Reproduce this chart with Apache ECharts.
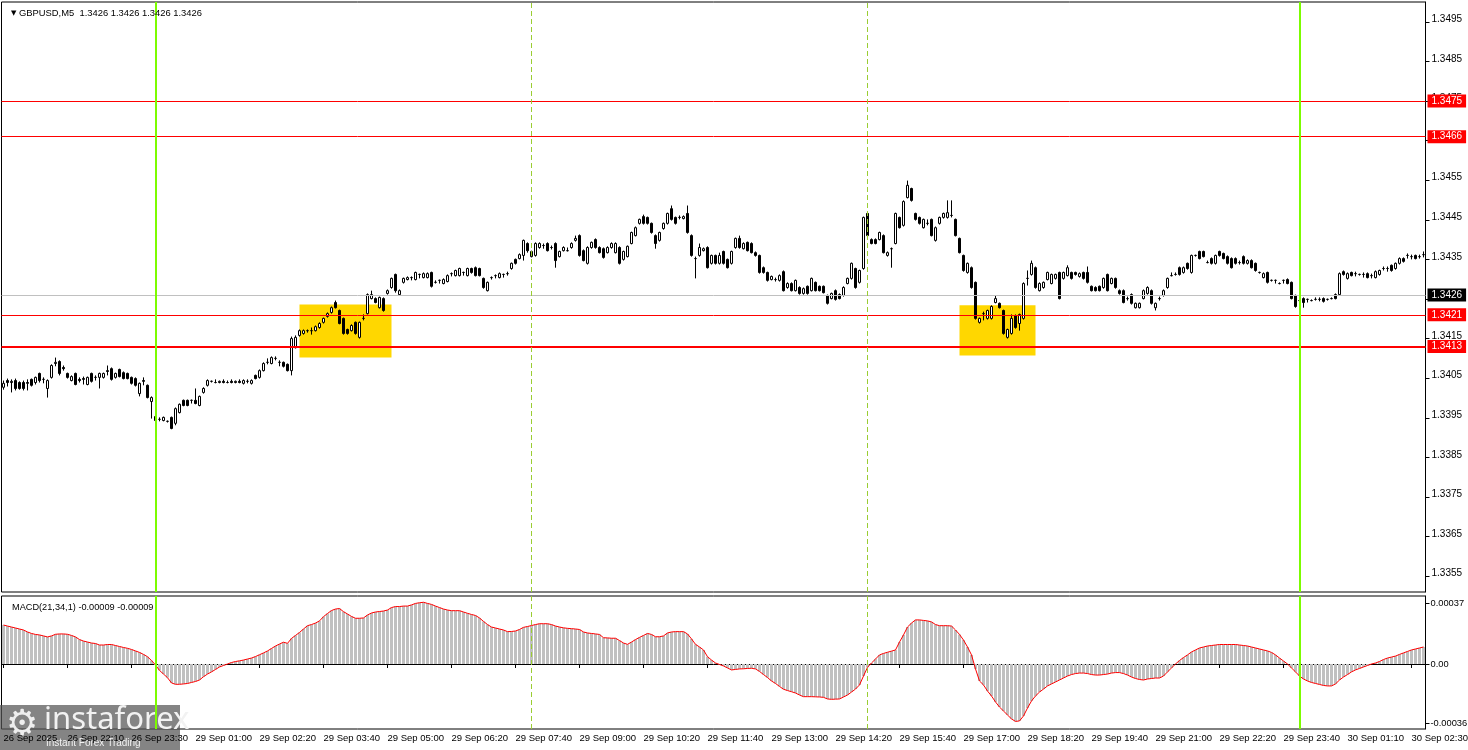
<!DOCTYPE html>
<html><head><meta charset="utf-8">
<script src="https://cdn.jsdelivr.net/npm/echarts@6.0.0/dist/echarts.min.js"></script>
<style>html,body{margin:0;padding:0;background:#fff}#c{width:1468px;height:750px}</style>
</head><body><div id="c"></div><script>
// sessions: [day, first bar minute-of-day, bar count] (5-minute bars)
const SESSIONS = [['26 Sep', 1250, 38], ['29 Sep', 10, 286], ['30 Sep', 10, 32]];
const X_TICK_LABELS = ['26 Sep 2025','26 Sep 22:10','26 Sep 23:30','29 Sep 01:00','29 Sep 02:20','29 Sep 03:40','29 Sep 05:00','29 Sep 06:20','29 Sep 07:40','29 Sep 09:00','29 Sep 10:20','29 Sep 11:40','29 Sep 13:00','29 Sep 14:20','29 Sep 15:40','29 Sep 17:00','29 Sep 18:20','29 Sep 19:40','29 Sep 21:00','29 Sep 22:20','29 Sep 23:40','30 Sep 01:10','30 Sep 02:30'];
const Y_TICKS = [1.3355,1.3365,1.3375,1.3385,1.3395,1.3405,1.3415,1.3425,1.3435,1.3445,1.3455,1.3465,1.3475,1.3485,1.3495];
const MACD_TICKS = [0.00037, 0, -0.00036];
const TITLE_TEXT = 'GBPUSD,M5  1.3426 1.3426 1.3426 1.3426';
const MACD_TEXT = 'MACD(21,34,1) -0.00009 -0.00009';

const OPEN = [
1.34027,1.34044,1.34039,1.34044,1.34039,1.34039,1.34039,1.34047,1.34039,1.34062,
1.34047,1.34024,1.34052,1.34087,1.34092,1.34077,1.34062,1.34044,1.34062,1.34047,
1.34049,1.34034,1.34062,1.34052,1.34052,1.34052,1.34069,1.34074,1.34052,1.34072,
1.34064,1.34062,1.34052,1.34049,1.34011,1.34044,1.34032,1.33991,1.33953,1.33946,
1.33943,1.33941,1.33951,1.33936,1.33963,1.33994,1.33994,1.33994,1.33994,1.33981,
1.34014,1.34032,1.34042,1.34039,1.34039,1.34042,1.34039,1.34042,1.34039,1.34042,
1.34037,1.34042,1.34037,1.34057,1.34052,1.34069,1.34090,1.34087,1.34100,1.34090,
1.34090,1.34085,1.34069,1.34127,1.34158,1.34163,1.34170,1.34170,1.34170,1.34178,
1.34191,1.34206,1.34216,1.34241,1.34221,1.34201,1.34173,1.34170,1.34191,1.34153,
1.34201,1.34213,1.34251,1.34251,1.34228,1.34251,1.34264,1.34279,1.34312,1.34261,
1.34292,1.34299,1.34304,1.34299,1.34312,1.34304,1.34304,1.34317,1.34292,1.34297,
1.34289,1.34294,1.34314,1.34309,1.34309,1.34317,1.34309,1.34327,1.34329,1.34327,
1.34302,1.34271,1.34304,1.34309,1.34304,1.34312,1.34314,1.34327,1.34350,1.34352,
1.34360,1.34390,1.34357,1.34360,1.34380,1.34385,1.34390,1.34380,1.34390,1.34357,
1.34372,1.34372,1.34380,1.34398,1.34410,1.34372,1.34340,1.34380,1.34400,1.34380,
1.34377,1.34367,1.34380,1.34367,1.34380,1.34350,1.34357,1.34390,1.34410,1.34441,
1.34458,1.34456,1.34441,1.34410,1.34398,1.34428,1.34441,1.34478,1.34456,1.34456,
1.34453,1.34466,1.34410,1.34352,1.34360,1.34372,1.34380,1.34340,1.34360,1.34340,
1.34370,1.34350,1.34340,1.34380,1.34403,1.34377,1.34393,1.34390,1.34367,1.34360,
1.34329,1.34317,1.34299,1.34299,1.34297,1.34319,1.34279,1.34289,1.34271,1.34279,
1.34264,1.34282,1.34271,1.34292,1.34282,1.34282,1.34259,1.34251,1.34271,1.34261,
1.34259,1.34289,1.34302,1.34327,1.34292,1.34327,1.34466,1.34400,1.34400,1.34400,
1.34410,1.34360,1.34377,1.34390,1.34456,1.34436,1.34506,1.34529,1.34466,1.34456,
1.34430,1.34441,1.34451,1.34398,1.34441,1.34456,1.34456,1.34461,1.34451,1.34403,
1.34360,1.34317,1.34329,1.34292,1.34191,1.34213,1.34201,1.34201,1.34241,1.34239,
1.34221,1.34153,1.34163,1.34208,1.34188,1.34201,1.34302,1.34312,1.34329,1.34271,
1.34279,1.34299,1.34289,1.34302,1.34317,1.34302,1.34309,1.34317,1.34317,1.34307,
1.34317,1.34317,1.34282,1.34279,1.34282,1.34279,1.34312,1.34289,1.34302,1.34271,
1.34271,1.34251,1.34261,1.34228,1.34228,1.34251,1.34264,1.34271,1.34228,1.34251,
1.34259,1.34279,1.34309,1.34312,1.34329,1.34317,1.34340,1.34317,1.34360,1.34370,
1.34370,1.34342,1.34352,1.34340,1.34370,1.34365,1.34357,1.34352,1.34352,1.34342,
1.34357,1.34340,1.34347,1.34340,1.34317,1.34304,1.34317,1.34297,1.34297,1.34289,
1.34297,1.34299,1.34292,1.34259,1.34246,1.34251,1.34249,1.34246,1.34249,1.34249,
1.34251,1.34249,1.34251,1.34261,1.34261,1.34319,1.34302,1.34317,1.34314,1.34312,
1.34312,1.34314,1.34309,1.34304,1.34312,1.34327,1.34327,1.34335,1.34327,1.34340,
1.34352,1.34360,1.34357,1.34360,1.34357,1.34362];
const CLOSE = [
1.34037,1.34039,1.34042,1.34024,1.34024,1.34024,1.34037,1.34032,1.34052,1.34044,
1.34047,1.34044,1.34082,1.34090,1.34062,1.34074,1.34052,1.34054,1.34034,1.34044,
1.34047,1.34052,1.34042,1.34052,1.34062,1.34062,1.34067,1.34047,1.34062,1.34054,
1.34049,1.34049,1.34037,1.34032,1.34037,1.34042,1.34001,1.34001,1.33943,1.33946,
1.33951,1.33941,1.33923,1.33973,1.33984,1.33981,1.33981,1.33994,1.33986,1.34004,
1.34024,1.34044,1.34042,1.34039,1.34042,1.34039,1.34039,1.34039,1.34042,1.34039,
1.34044,1.34042,1.34044,1.34049,1.34069,1.34087,1.34090,1.34102,1.34100,1.34090,
1.34080,1.34069,1.34150,1.34153,1.34170,1.34170,1.34170,1.34170,1.34180,1.34188,
1.34201,1.34213,1.34228,1.34228,1.34188,1.34163,1.34163,1.34183,1.34163,1.34191,
1.34201,1.34261,1.34261,1.34241,1.34254,1.34221,1.34271,1.34302,1.34271,1.34271,
1.34302,1.34304,1.34304,1.34317,1.34312,1.34314,1.34314,1.34282,1.34292,1.34297,
1.34299,1.34309,1.34314,1.34322,1.34327,1.34317,1.34327,1.34317,1.34309,1.34309,
1.34279,1.34292,1.34304,1.34309,1.34314,1.34312,1.34314,1.34340,1.34340,1.34362,
1.34398,1.34372,1.34370,1.34390,1.34390,1.34385,1.34372,1.34380,1.34347,1.34370,
1.34380,1.34372,1.34390,1.34403,1.34360,1.34347,1.34380,1.34393,1.34380,1.34367,
1.34355,1.34380,1.34390,1.34390,1.34340,1.34370,1.34383,1.34418,1.34430,1.34451,
1.34441,1.34441,1.34418,1.34390,1.34418,1.34441,1.34466,1.34451,1.34441,1.34456,
1.34458,1.34418,1.34360,1.34352,1.34380,1.34377,1.34329,1.34360,1.34340,1.34360,
1.34340,1.34329,1.34370,1.34403,1.34380,1.34390,1.34372,1.34367,1.34360,1.34317,
1.34317,1.34297,1.34307,1.34299,1.34309,1.34271,1.34289,1.34271,1.34297,1.34264,
1.34276,1.34264,1.34302,1.34271,1.34271,1.34266,1.34239,1.34264,1.34249,1.34251,
1.34279,1.34302,1.34340,1.34279,1.34322,1.34456,1.34410,1.34390,1.34390,1.34418,
1.34367,1.34367,1.34377,1.34466,1.34430,1.34496,1.34537,1.34499,1.34451,1.34441,
1.34451,1.34441,1.34410,1.34430,1.34456,1.34466,1.34468,1.34461,1.34410,1.34367,
1.34322,1.34340,1.34279,1.34201,1.34201,1.34213,1.34221,1.34231,1.34251,1.34228,
1.34163,1.34173,1.34201,1.34178,1.34211,1.34289,1.34302,1.34340,1.34279,1.34289,
1.34292,1.34317,1.34312,1.34312,1.34251,1.34317,1.34329,1.34302,1.34312,1.34314,
1.34302,1.34292,1.34271,1.34271,1.34271,1.34302,1.34271,1.34302,1.34279,1.34264,
1.34241,1.34251,1.34239,1.34239,1.34239,1.34271,1.34279,1.34239,1.34239,1.34251,
1.34271,1.34302,1.34309,1.34312,1.34312,1.34329,1.34327,1.34360,1.34360,1.34352,
1.34357,1.34342,1.34340,1.34360,1.34360,1.34352,1.34340,1.34329,1.34340,1.34342,
1.34340,1.34347,1.34329,1.34322,1.34317,1.34314,1.34292,1.34297,1.34297,1.34289,
1.34297,1.34289,1.34251,1.34231,1.34246,1.34241,1.34249,1.34246,1.34249,1.34249,
1.34244,1.34249,1.34251,1.34251,1.34314,1.34312,1.34314,1.34309,1.34314,1.34312,
1.34312,1.34304,1.34309,1.34319,1.34322,1.34327,1.34327,1.34322,1.34340,1.34352,
1.34345,1.34360,1.34357,1.34352,1.34357,1.34362];
const HIGH = [
1.34044,1.34049,1.34047,1.34049,1.34042,1.34044,1.34047,1.34049,1.34054,1.34064,
1.34052,1.34047,1.34085,1.34102,1.34095,1.34082,1.34064,1.34057,1.34064,1.34052,
1.34054,1.34054,1.34064,1.34057,1.34064,1.34064,1.34082,1.34077,1.34064,1.34074,
1.34067,1.34064,1.34054,1.34052,1.34039,1.34052,1.34034,1.34004,1.33956,1.33951,
1.33953,1.33943,1.33953,1.33976,1.33986,1.33996,1.33996,1.33996,1.34024,1.34006,
1.34027,1.34047,1.34044,1.34047,1.34044,1.34047,1.34044,1.34047,1.34044,1.34047,
1.34047,1.34047,1.34047,1.34059,1.34072,1.34090,1.34100,1.34105,1.34105,1.34095,
1.34092,1.34087,1.34155,1.34158,1.34173,1.34173,1.34173,1.34178,1.34183,1.34191,
1.34203,1.34216,1.34231,1.34246,1.34223,1.34203,1.34175,1.34186,1.34193,1.34193,
1.34211,1.34264,1.34271,1.34254,1.34256,1.34254,1.34274,1.34304,1.34314,1.34274,
1.34304,1.34307,1.34307,1.34319,1.34314,1.34317,1.34317,1.34319,1.34297,1.34299,
1.34302,1.34312,1.34317,1.34324,1.34329,1.34319,1.34329,1.34329,1.34332,1.34329,
1.34304,1.34294,1.34307,1.34312,1.34317,1.34314,1.34319,1.34342,1.34352,1.34365,
1.34400,1.34393,1.34372,1.34393,1.34393,1.34390,1.34393,1.34385,1.34393,1.34372,
1.34383,1.34380,1.34393,1.34410,1.34413,1.34375,1.34383,1.34395,1.34403,1.34383,
1.34380,1.34383,1.34393,1.34393,1.34383,1.34372,1.34385,1.34420,1.34433,1.34453,
1.34463,1.34458,1.34443,1.34413,1.34420,1.34443,1.34468,1.34486,1.34458,1.34461,
1.34461,1.34486,1.34413,1.34357,1.34390,1.34380,1.34383,1.34362,1.34362,1.34367,
1.34372,1.34352,1.34372,1.34405,1.34410,1.34393,1.34395,1.34393,1.34370,1.34362,
1.34332,1.34319,1.34309,1.34304,1.34312,1.34322,1.34292,1.34292,1.34299,1.34282,
1.34279,1.34284,1.34304,1.34294,1.34284,1.34284,1.34261,1.34266,1.34274,1.34264,
1.34282,1.34304,1.34342,1.34329,1.34324,1.34458,1.34468,1.34403,1.34403,1.34420,
1.34413,1.34370,1.34380,1.34468,1.34458,1.34499,1.34549,1.34531,1.34468,1.34458,
1.34453,1.34451,1.34453,1.34433,1.34458,1.34468,1.34499,1.34499,1.34453,1.34405,
1.34362,1.34342,1.34332,1.34294,1.34203,1.34218,1.34223,1.34234,1.34259,1.34241,
1.34223,1.34175,1.34211,1.34211,1.34213,1.34292,1.34322,1.34347,1.34332,1.34292,
1.34294,1.34319,1.34314,1.34314,1.34319,1.34319,1.34335,1.34319,1.34319,1.34317,
1.34319,1.34332,1.34284,1.34282,1.34284,1.34304,1.34314,1.34304,1.34304,1.34274,
1.34274,1.34256,1.34264,1.34241,1.34241,1.34274,1.34282,1.34274,1.34241,1.34256,
1.34274,1.34304,1.34317,1.34317,1.34332,1.34332,1.34342,1.34362,1.34362,1.34372,
1.34372,1.34347,1.34355,1.34362,1.34372,1.34367,1.34360,1.34355,1.34355,1.34347,
1.34360,1.34350,1.34350,1.34342,1.34319,1.34317,1.34319,1.34299,1.34299,1.34292,
1.34299,1.34302,1.34294,1.34261,1.34249,1.34254,1.34251,1.34249,1.34254,1.34254,
1.34254,1.34251,1.34254,1.34264,1.34317,1.34322,1.34317,1.34319,1.34319,1.34314,
1.34317,1.34317,1.34314,1.34322,1.34324,1.34332,1.34332,1.34337,1.34342,1.34355,
1.34355,1.34365,1.34362,1.34362,1.34362,1.34370];
const LOW = [
1.34021,1.34029,1.34014,1.34019,1.34021,1.34019,1.34019,1.34029,1.34034,1.34039,
1.34037,1.34001,1.34049,1.34080,1.34057,1.34069,1.34049,1.34042,1.34032,1.34039,
1.34034,1.34032,1.34039,1.34044,1.34024,1.34049,1.34057,1.34044,1.34049,1.34052,
1.34047,1.34047,1.34034,1.34029,1.34004,1.34032,1.33999,1.33948,1.33941,1.33941,
1.33941,1.33938,1.33921,1.33931,1.33961,1.33979,1.33979,1.33986,1.33984,1.33979,
1.34011,1.34029,1.34039,1.34037,1.34037,1.34037,1.34037,1.34037,1.34037,1.34037,
1.34034,1.34037,1.34034,1.34047,1.34049,1.34067,1.34085,1.34085,1.34095,1.34080,
1.34077,1.34067,1.34057,1.34125,1.34155,1.34160,1.34165,1.34160,1.34168,1.34175,
1.34188,1.34203,1.34213,1.34226,1.34186,1.34160,1.34160,1.34168,1.34160,1.34150,
1.34196,1.34211,1.34249,1.34239,1.34226,1.34218,1.34261,1.34276,1.34266,1.34259,
1.34289,1.34297,1.34297,1.34297,1.34302,1.34302,1.34302,1.34279,1.34289,1.34289,
1.34287,1.34292,1.34307,1.34307,1.34307,1.34309,1.34307,1.34314,1.34307,1.34307,
1.34276,1.34269,1.34299,1.34302,1.34302,1.34304,1.34309,1.34324,1.34337,1.34350,
1.34347,1.34367,1.34355,1.34357,1.34377,1.34377,1.34370,1.34375,1.34329,1.34355,
1.34370,1.34370,1.34377,1.34395,1.34357,1.34345,1.34337,1.34377,1.34377,1.34365,
1.34352,1.34365,1.34377,1.34365,1.34337,1.34347,1.34355,1.34388,1.34408,1.34438,
1.34438,1.34438,1.34415,1.34377,1.34395,1.34425,1.34438,1.34448,1.34438,1.34451,
1.34451,1.34415,1.34357,1.34302,1.34357,1.34370,1.34327,1.34337,1.34337,1.34337,
1.34337,1.34327,1.34337,1.34377,1.34377,1.34375,1.34370,1.34365,1.34357,1.34314,
1.34314,1.34294,1.34297,1.34294,1.34294,1.34269,1.34276,1.34269,1.34269,1.34261,
1.34261,1.34261,1.34269,1.34269,1.34269,1.34264,1.34236,1.34249,1.34246,1.34249,
1.34256,1.34287,1.34299,1.34276,1.34289,1.34324,1.34408,1.34388,1.34388,1.34398,
1.34365,1.34357,1.34329,1.34388,1.34428,1.34433,1.34504,1.34496,1.34448,1.34438,
1.34428,1.34436,1.34408,1.34395,1.34438,1.34453,1.34453,1.34456,1.34408,1.34365,
1.34319,1.34314,1.34276,1.34198,1.34188,1.34196,1.34198,1.34198,1.34239,1.34226,
1.34160,1.34150,1.34160,1.34175,1.34170,1.34198,1.34284,1.34309,1.34276,1.34269,
1.34276,1.34297,1.34287,1.34299,1.34249,1.34299,1.34307,1.34299,1.34309,1.34304,
1.34299,1.34289,1.34269,1.34269,1.34269,1.34276,1.34269,1.34287,1.34276,1.34261,
1.34239,1.34246,1.34236,1.34226,1.34226,1.34249,1.34261,1.34236,1.34221,1.34246,
1.34256,1.34276,1.34307,1.34309,1.34309,1.34314,1.34324,1.34314,1.34357,1.34350,
1.34355,1.34340,1.34337,1.34337,1.34357,1.34350,1.34337,1.34327,1.34337,1.34337,
1.34337,1.34337,1.34327,1.34319,1.34314,1.34302,1.34289,1.34294,1.34289,1.34287,
1.34289,1.34287,1.34249,1.34228,1.34228,1.34228,1.34241,1.34244,1.34246,1.34244,
1.34241,1.34246,1.34249,1.34249,1.34259,1.34309,1.34299,1.34307,1.34307,1.34309,
1.34304,1.34302,1.34302,1.34302,1.34309,1.34322,1.34319,1.34319,1.34324,1.34337,
1.34342,1.34352,1.34350,1.34350,1.34352,1.34355];
const MACD = [
236e-6,230e-6,224e-6,218e-6,212e-6,206e-6,194e-6,185e-6,179e-6,176e-6,
170e-6,164e-6,170e-6,180e-6,182e-6,182e-6,180e-6,173e-6,164e-6,148e-6,
139e-6,133e-6,127e-6,124e-6,115e-6,115e-6,118e-6,118e-6,112e-6,106e-6,
100e-6,95e-6,88e-6,79e-6,70e-6,58e-6,44e-6,21e-6,-6e-6,-39e-6,
-61e-6,-83e-6,-115e-6,-123e-6,-123e-6,-121e-6,-118e-6,-112e-6,-106e-6,-97e-6,
-77e-6,-61e-6,-48e-6,-33e-6,-18e-6,-9e-6,0,9e-6,15e-6,19e-6,
24e-6,30e-6,36e-6,45e-6,56e-6,67e-6,79e-6,94e-6,109e-6,121e-6,
132e-6,125e-6,155e-6,173e-6,191e-6,212e-6,232e-6,239e-6,248e-6,261e-6,
287e-6,306e-6,324e-6,333e-6,336e-6,317e-6,303e-6,288e-6,277e-6,277e-6,
279e-6,297e-6,309e-6,315e-6,318e-6,321e-6,327e-6,342e-6,348e-6,348e-6,
351e-6,351e-6,358e-6,367e-6,371e-6,374e-6,367e-6,361e-6,351e-6,342e-6,
333e-6,327e-6,323e-6,323e-6,323e-6,315e-6,307e-6,300e-6,294e-6,279e-6,
258e-6,239e-6,224e-6,218e-6,212e-6,206e-6,196e-6,197e-6,200e-6,209e-6,
222e-6,227e-6,233e-6,239e-6,244e-6,244e-6,244e-6,239e-6,230e-6,224e-6,
219e-6,216e-6,214e-6,212e-6,209e-6,194e-6,188e-6,185e-6,182e-6,179e-6,
159e-6,158e-6,156e-6,156e-6,142e-6,127e-6,119e-6,133e-6,148e-6,161e-6,
173e-6,185e-6,179e-6,165e-6,165e-6,170e-6,188e-6,194e-6,196e-6,196e-6,
196e-6,182e-6,152e-6,119e-6,103e-6,85e-6,44e-6,24e-6,6e-6,-3e-6,
-12e-6,-24e-6,-36e-6,-33e-6,-30e-6,-29e-6,-27e-6,-26e-6,-30e-6,-45e-6,
-64e-6,-82e-6,-103e-6,-118e-6,-136e-6,-153e-6,-161e-6,-168e-6,-176e-6,-188e-6,
-198e-6,-198e-6,-198e-6,-199e-6,-200e-6,-202e-6,-212e-6,-214e-6,-213e-6,-212e-6,
-200e-6,-188e-6,-170e-6,-152e-6,-127e-6,-73e-6,-20e-6,6e-6,30e-6,55e-6,
64e-6,71e-6,78e-6,85e-6,133e-6,176e-6,224e-6,248e-6,267e-6,267e-6,
264e-6,261e-6,255e-6,239e-6,232e-6,232e-6,232e-6,230e-6,206e-6,179e-6,
145e-6,103e-6,55e-6,-30e-6,-103e-6,-127e-6,-164e-6,-194e-6,-230e-6,-261e-6,
-285e-6,-309e-6,-333e-6,-348e-6,-345e-6,-315e-6,-267e-6,-224e-6,-194e-6,-170e-6,
-152e-6,-133e-6,-121e-6,-109e-6,-97e-6,-85e-6,-73e-6,-64e-6,-58e-6,-55e-6,
-55e-6,-58e-6,-64e-6,-67e-6,-67e-6,-64e-6,-61e-6,-55e-6,-52e-6,-52e-6,
-58e-6,-67e-6,-79e-6,-88e-6,-94e-6,-97e-6,-91e-6,-88e-6,-85e-6,-85e-6,
-73e-6,-48e-6,-24e-6,0,21e-6,39e-6,55e-6,73e-6,85e-6,97e-6,
103e-6,109e-6,112e-6,115e-6,118e-6,118e-6,118e-6,118e-6,118e-6,115e-6,
112e-6,109e-6,103e-6,97e-6,91e-6,85e-6,79e-6,70e-6,55e-6,36e-6,
18e-6,0,-24e-6,-48e-6,-73e-6,-91e-6,-103e-6,-112e-6,-118e-6,-124e-6,
-130e-6,-133e-6,-133e-6,-121e-6,-97e-6,-79e-6,-64e-6,-48e-6,-36e-6,-27e-6,
-18e-6,-9e-6,0,6e-6,15e-6,27e-6,36e-6,42e-6,48e-6,58e-6,
67e-6,76e-6,85e-6,91e-6,97e-6,103e-6];

const RED_LEVELS = [1.3475, 1.3466, 1.3421];
const MAIN_LEVEL = 1.3413;
const BID_LEVEL = 1.3426;
// zones: [first bar, last bar, top price, bottom price]
const ZONES = [[74, 97, 1.34236, 1.34102], [239, 258, 1.34234, 1.34107]];
const DAY_STARTS = [38, 324];
const SESSION_MARKS = [132, 216];

const categories = [];
SESSIONS.forEach(([day, start, count]) => {
  for (let k = 0; k < count; k++) {
    const m = start + 5 * k;
    categories.push(day + ' ' + String(Math.floor(m / 60)).padStart(2, '0') + ':' + String(m % 60).padStart(2, '0'));
  }
});
const candleData = OPEN.map((o, i) => [o, CLOSE[i], LOW[i], HIGH[i]]);
const FONT = '"Liberation Sans", Arial, sans-serif';

const vLines = () => DAY_STARTS.map(i => ({xAxis: i, label: {show: false}, lineStyle: {color: '#7CFC00', width: 2, type: 'solid'}}))
  .concat(SESSION_MARKS.map(i => ({xAxis: i, label: {show: false}, lineStyle: {color: '#9ACD32', width: 1, type: [5, 3]}})));

const priceTag = (bg) => ({
  show: true, position: 'end', distance: 2, formatter: p => Number(p.value).toFixed(4),
  backgroundColor: bg, color: '#fff', fontSize: 10, fontFamily: FONT, padding: [2, 4, 1, 4]
});

const GRID_BASE = {left: 1.5, right: 42.5, show: true, borderColor: '#000', borderWidth: 1,
  backgroundColor: 'transparent', outerBoundsMode: 'none', containLabel: false};

const chart = echarts.init(document.getElementById('c'), null, {renderer: 'canvas'});
chart.setOption({
  animation: false,
  backgroundColor: '#ffffff',
  textStyle: {fontFamily: FONT},
  title: [
    {text: '{tri|▼} ' + TITLE_TEXT, left: 6, top: 4,
     textStyle: {fontSize: 9.4, fontWeight: 'normal', color: '#000', fontFamily: FONT,
       rich: {tri: {fontSize: 7, color: '#000', fontFamily: '"DejaVu Sans"'}}}},
    {text: MACD_TEXT, left: 7, top: 598,
     textStyle: {fontSize: 9.2, fontWeight: 'normal', color: '#000', fontFamily: FONT}}
  ],
  grid: [
    Object.assign({top: 2, height: 590}, GRID_BASE),
    Object.assign({top: 596, height: 133}, GRID_BASE)
  ],
  xAxis: [
    {type: 'category', gridIndex: 0, data: categories, boundaryGap: true,
     axisLine: {show: false}, axisTick: {show: false}, axisLabel: {show: false}, splitLine: {show: false}},
    {type: 'category', gridIndex: 1, data: categories, boundaryGap: true,
     axisLine: {show: true, lineStyle: {color: '#000'}},
     axisTick: {show: true, interval: 15, alignWithLabel: true, length: 4, lineStyle: {color: '#000'}},
     axisLabel: {interval: 15, align: 'left', margin: 4, fontSize: 9.5, color: '#000', fontFamily: FONT,
       formatter: (v, idx) => X_TICK_LABELS[Math.round(idx / 16)] || ''},
     splitLine: {show: false}}
  ],
  yAxis: [
    {type: 'value', gridIndex: 0, position: 'right', min: 1.3351, max: 1.3500,
     axisLine: {show: true, lineStyle: {color: '#000'}}, splitLine: {show: false},
     axisTick: {show: true, customValues: Y_TICKS, length: 4, lineStyle: {color: '#000'}},
     axisLabel: {customValues: Y_TICKS, margin: 6, fontSize: 10, color: '#000', fontFamily: FONT,
       formatter: v => '{a|' + v.toFixed(4) + '}',
       rich: {a: {fontSize: 10, color: '#000', fontFamily: FONT, padding: [0, 0, 5, 0]}}}},
    {type: 'value', gridIndex: 1, position: 'right', min: -0.000394, max: 0.000412,
     axisLine: {show: true, lineStyle: {color: '#000'}}, splitLine: {show: false},
     axisTick: {show: true, customValues: MACD_TICKS, length: 4, lineStyle: {color: '#000'}},
     axisLabel: {customValues: MACD_TICKS, margin: 5, fontSize: 9.3, color: '#000', fontFamily: FONT,
       formatter: v => (Math.abs(v) < 1e-9 ? '0.00' : v.toFixed(5))}}
  ],
  series: [
    {name: 'zones', type: 'line', xAxisIndex: 0, yAxisIndex: 0, data: [], z: 1, silent: true,
     markArea: {silent: true, itemStyle: {color: '#FFD700', opacity: 1},
       data: ZONES.map(zn => [{xAxis: zn[0], yAxis: zn[2]}, {xAxis: zn[1], yAxis: zn[3]}])},
     markLine: {silent: true, precision: 6, symbol: ['none', 'none'], animation: false,
       data: [{yAxis: BID_LEVEL, lineStyle: {color: '#C0C0C0', width: 1, type: 'solid'}, label: priceTag('#000000')}]}},
    {name: 'GBPUSD', type: 'candlestick', xAxisIndex: 0, yAxisIndex: 0, data: candleData, z: 2,
     barWidth: 2,
     itemStyle: {color: '#ffffff', color0: '#000000', borderColor: '#000000', borderColor0: '#000000',
       borderColorDoji: '#000000', borderWidth: 1}},
    {name: 'levels', type: 'line', xAxisIndex: 0, yAxisIndex: 0, data: [], z: 3, silent: true,
     markLine: {silent: true, precision: 6, symbol: ['none', 'none'], animation: false,
       data: RED_LEVELS.map(v => ({yAxis: v, lineStyle: {color: '#FF0000', width: 1, type: 'solid'}, label: priceTag('#FF0000')}))
         .concat([{yAxis: MAIN_LEVEL, lineStyle: {color: '#FF0000', width: 2, type: 'solid'}, label: priceTag('#FF0000')}])
         .concat(vLines())}},
    {name: 'MACD hist', type: 'bar', xAxisIndex: 1, yAxisIndex: 1, data: MACD, barWidth: 3, z: 1,
     itemStyle: {color: '#C0C0C0'}, silent: true},
    {name: 'MACD signal', type: 'line', xAxisIndex: 1, yAxisIndex: 1, data: MACD, z: 3, silent: true,
     symbol: 'none', lineStyle: {color: '#FF0000', width: 1},
     markLine: {silent: true, precision: 6, symbol: ['none', 'none'], animation: false, data: vLines()}}
  ],
  graphic: [
    {type: 'group', left: 0, top: 705, z: 100, children: [
      {type: 'rect', shape: {x: 0, y: 0, width: 180, height: 45}, style: {fill: 'rgba(85,85,85,0.72)'}},
      {type: 'text', x: 6, y: 3, style: {text: '⚙', font: '36px "DejaVu Sans"', fill: '#eeeeee'}},
      {type: 'text', x: 44, y: 0, style: {text: 'instaforex', font: '31px "Noto Sans"', fill: '#f2f2f2'}},
      {type: 'text', x: 46, y: 33, style: {text: 'Instant Forex Trading', font: '10px "Liberation Sans"', fill: '#f2f2f2'}}
    ]}
  ]
});
</script></body></html>
